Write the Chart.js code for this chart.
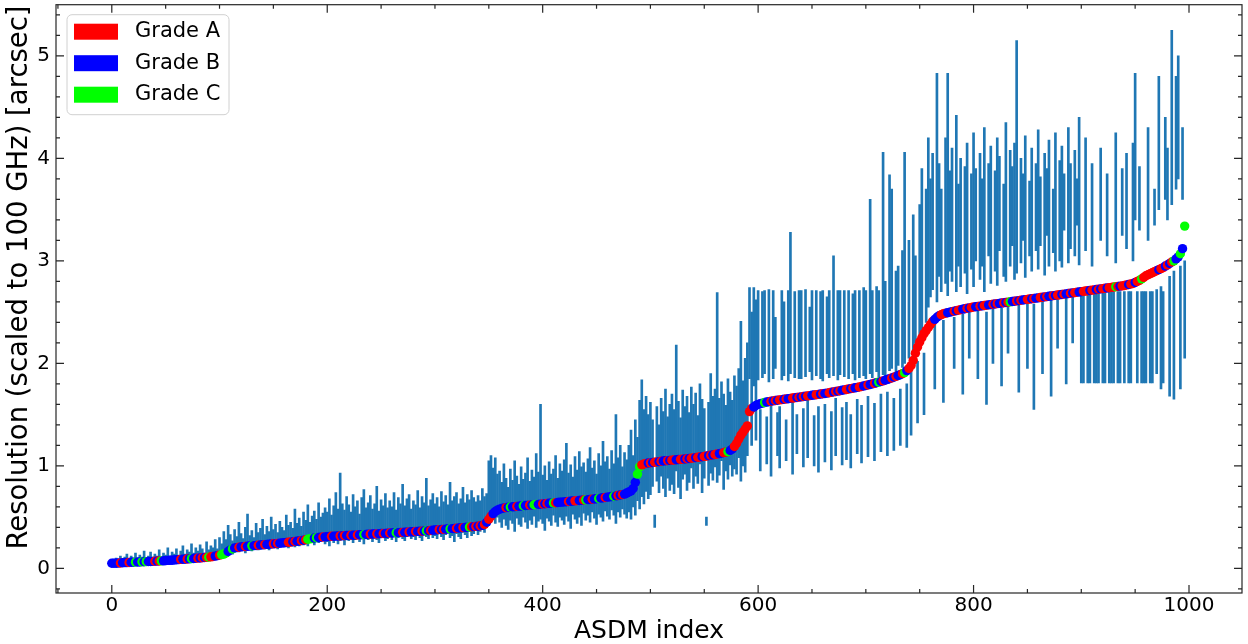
<!DOCTYPE html>
<html>
<head>
<meta charset="utf-8">
<title>Resolution per ASDM</title>
<script src="https://cdn.jsdelivr.net/npm/chart.js@4.4.1/dist/chart.umd.min.js"></script>
<style>
  html, body { margin: 0; padding: 0; background: #ffffff; }
  #chart { display: block; }
</style>
</head>
<body>
<canvas id="chart" width="1248" height="644"></canvas>
<script>
// resolution of each ASDM (sorted), sampled every 2nd index
const resolution = [
  0.05,0.05,0.05,0.052,0.053,0.055,0.056,0.057,0.058,0.06,
  0.06,0.061,0.062,0.063,0.064,0.065,0.066,0.067,0.068,0.069,
  0.07,0.071,0.072,0.073,0.074,0.076,0.078,0.079,0.08,0.082,
  0.085,0.086,0.088,0.089,0.09,0.092,0.093,0.095,0.097,0.099,
  0.1,0.102,0.104,0.106,0.108,0.11,0.113,0.116,0.12,0.125,
  0.13,0.135,0.14,0.15,0.165,0.18,0.19,0.2,0.203,0.206,
  0.21,0.212,0.214,0.216,0.218,0.22,0.222,0.224,0.226,0.228,
  0.23,0.232,0.234,0.236,0.238,0.24,0.242,0.244,0.246,0.248,
  0.25,0.252,0.255,0.257,0.26,0.262,0.265,0.268,0.271,0.275,
  0.28,0.284,0.288,0.292,0.296,0.3,0.302,0.304,0.306,0.308,
  0.31,0.312,0.313,0.314,0.315,0.316,0.317,0.318,0.32,0.321,
  0.322,0.323,0.324,0.325,0.326,0.328,0.329,0.33,0.331,0.333,
  0.334,0.335,0.336,0.337,0.338,0.34,0.341,0.342,0.343,0.345,
  0.346,0.347,0.348,0.349,0.35,0.352,0.353,0.354,0.356,0.357,
  0.358,0.36,0.361,0.362,0.364,0.365,0.367,0.368,0.37,0.372,
  0.375,0.376,0.378,0.379,0.381,0.383,0.385,0.386,0.388,0.39,
  0.392,0.394,0.396,0.398,0.4,0.402,0.404,0.406,0.408,0.41,
  0.412,0.416,0.42,0.43,0.45,0.48,0.51,0.535,0.555,0.568,
  0.578,0.584,0.589,0.593,0.596,0.599,0.601,0.603,0.605,0.607,
  0.609,0.611,0.613,0.615,0.617,0.619,0.621,0.623,0.625,0.627,
  0.629,0.631,0.633,0.635,0.637,0.639,0.641,0.643,0.645,0.647,
  0.649,0.651,0.653,0.655,0.657,0.659,0.661,0.663,0.665,0.667,
  0.669,0.671,0.673,0.675,0.677,0.68,0.683,0.686,0.689,0.692,
  0.695,0.698,0.701,0.704,0.708,0.712,0.716,0.72,0.725,0.735,
  0.745,0.755,0.78,0.84,0.92,0.99,1.01,1.02,1.025,1.028,
  1.03,1.033,1.036,1.039,1.042,1.045,1.048,1.05,1.052,1.054,
  1.056,1.058,1.06,1.062,1.064,1.066,1.068,1.07,1.072,1.075,
  1.078,1.081,1.084,1.087,1.09,1.093,1.096,1.1,1.104,1.108,
  1.112,1.116,1.12,1.125,1.13,1.135,1.14,1.15,1.165,1.19,
  1.22,1.26,1.3,1.33,1.36,1.39,1.53,1.56,1.575,1.59,
  1.6,1.607,1.613,1.618,1.623,1.627,1.631,1.635,1.638,1.641,
  1.644,1.647,1.65,1.653,1.656,1.659,1.662,1.665,1.668,1.671,
  1.674,1.677,1.68,1.683,1.686,1.689,1.692,1.695,1.698,1.701,
  1.704,1.707,1.71,1.714,1.718,1.722,1.726,1.73,1.734,1.738,
  1.742,1.746,1.75,1.754,1.758,1.762,1.766,1.77,1.775,1.78,
  1.785,1.79,1.795,1.8,1.806,1.812,1.818,1.824,1.83,1.837,
  1.844,1.851,1.858,1.866,1.874,1.882,1.89,1.9,1.91,1.93,
  1.95,1.98,2.03,2.1,2.16,2.21,2.25,2.29,2.32,2.35,
  2.38,2.41,2.43,2.45,2.465,2.475,2.485,2.49,2.495,2.5,
  2.505,2.51,2.515,2.52,2.525,2.53,2.534,2.538,2.542,2.546,
  2.55,2.553,2.556,2.559,2.562,2.565,2.568,2.571,2.574,2.577,
  2.58,2.583,2.586,2.589,2.592,2.595,2.598,2.601,2.604,2.607,
  2.61,2.613,2.616,2.619,2.622,2.625,2.628,2.631,2.634,2.637,
  2.64,2.643,2.646,2.649,2.652,2.655,2.658,2.661,2.664,2.667,
  2.67,2.673,2.676,2.679,2.682,2.685,2.688,2.691,2.694,2.697,
  2.7,2.703,2.706,2.709,2.712,2.715,2.718,2.721,2.724,2.727,
  2.73,2.733,2.736,2.739,2.742,2.745,2.748,2.751,2.754,2.757,
  2.76,2.765,2.77,2.775,2.78,2.79,2.8,2.81,2.825,2.84,
  2.855,2.865,2.875,2.885,2.895,2.905,2.915,2.925,2.935,2.95,
  2.96,2.975,2.99,3.0,3.02,3.04,3.07,3.12,3.34
];

// upper end of each resolution range
const errHigh = [
  0.08,0.07,0.1,0.09,0.12,0.08,0.11,0.14,0.09,0.12,
  0.1,0.15,0.09,0.13,0.11,0.17,0.1,0.12,0.16,0.11,
  0.14,0.12,0.18,0.1,0.15,0.13,0.2,0.12,0.16,0.14,
  0.19,0.13,0.17,0.22,0.14,0.18,0.16,0.24,0.15,0.2,
  0.17,0.23,0.19,0.15,0.26,0.18,0.22,0.2,0.28,0.19,
  0.3,0.24,0.36,0.28,0.42,0.33,0.27,0.38,0.31,0.45,
  0.34,0.29,0.4,0.53,0.32,0.37,0.3,0.44,0.35,0.39,
  0.48,0.33,0.41,0.36,0.5,0.38,0.43,0.35,0.46,0.4,
  0.37,0.52,0.42,0.45,0.39,0.58,0.44,0.49,0.41,0.55,
  0.47,0.62,0.45,0.51,0.56,0.48,0.64,0.5,0.54,0.59,
  0.55,0.68,0.52,0.61,0.74,0.58,0.93,0.63,0.57,0.7,
  0.62,0.55,0.72,0.6,0.66,0.53,0.69,0.77,0.59,0.64,
  0.71,0.58,0.63,0.8,0.56,0.67,0.61,0.73,0.59,0.66,
  0.6,0.74,0.57,0.69,0.63,0.82,0.61,0.68,0.72,0.58,
  0.66,0.62,0.76,0.59,0.7,0.64,0.88,0.61,0.67,0.73,
  0.63,0.69,0.6,0.75,0.65,0.71,0.62,0.84,0.66,0.7,
  0.74,0.63,0.68,0.79,0.64,0.72,0.67,0.76,0.69,0.65,
  0.71,0.66,0.78,0.7,0.73,1.05,1.1,0.98,1.08,0.92,
  0.95,0.84,1.02,0.88,0.79,0.97,0.86,1.05,0.9,0.82,
  0.99,0.87,0.93,1.08,0.85,0.96,0.89,1.12,0.94,1.6,
  0.91,1.0,0.86,1.04,0.92,0.97,1.1,0.88,1.02,0.95,
  1.06,1.22,0.93,1.01,0.89,1.09,0.96,1.14,0.99,1.03,
  0.94,1.07,1.18,0.98,1.05,0.92,1.12,1.0,1.24,1.04,
  1.09,0.97,1.15,1.02,1.5,1.08,1.2,0.99,1.13,1.06,
  1.2,1.35,1.1,1.45,1.28,1.64,1.84,1.55,1.68,1.5,
  1.62,1.45,0.52,1.58,1.4,1.66,1.53,1.75,1.48,1.6,
  1.7,1.55,2.18,1.63,1.47,1.74,1.58,1.68,1.52,1.77,
  1.6,1.71,1.49,1.8,1.65,1.56,0.5,1.62,1.9,1.68,
  1.75,2.69,1.66,1.82,1.7,1.59,1.85,1.72,1.64,1.88,
  1.78,1.95,2.41,1.83,2.05,2.2,2.74,2.5,2.74,2.62,
  2.71,1.55,2.7,2.71,1.48,2.72,1.6,2.71,2.45,1.52,
  1.58,2.71,2.6,1.45,2.71,3.28,1.62,2.7,1.5,2.71,
  2.71,1.56,2.72,1.64,2.55,2.71,1.49,2.71,1.58,2.7,
  2.71,1.6,2.65,2.71,1.53,3.05,1.66,2.71,2.71,1.57,
  2.71,1.62,2.71,1.5,2.68,2.71,1.65,2.71,1.59,2.74,
  2.71,1.68,3.6,2.71,1.61,2.75,2.71,1.7,4.06,2.8,
  1.72,3.84,3.7,1.66,2.9,2.95,1.75,3.1,4.06,1.8,
  3.2,1.95,3.45,3.05,2.02,3.55,3.9,2.1,3.7,4.2,
  3.8,4.05,2.4,4.83,3.95,3.7,2.42,4.2,4.83,3.88,
  4.1,2.45,4.42,3.75,4.0,2.48,3.92,4.15,2.5,3.85,
  4.25,3.9,2.52,4.05,3.8,4.3,2.5,3.95,4.12,2.55,
  3.88,4.2,4.02,2.54,3.75,4.35,2.56,4.08,3.92,4.15,
  5.15,2.58,4.0,3.85,4.22,2.6,3.78,4.1,2.58,3.95,
  4.28,3.82,2.62,4.05,3.9,4.18,2.62,3.7,4.25,2.64,
  3.98,4.12,3.85,2.66,4.3,3.95,2.67,4.08,3.8,4.4,
  2.7,2.7,4.2,2.7,2.7,3.95,2.7,2.7,2.7,4.1,
  2.7,2.7,3.85,2.7,2.7,2.7,4.25,2.7,2.7,3.9,
  2.7,4.05,2.7,2.7,4.15,4.83,2.7,3.92,2.7,2.7,
  2.7,4.3,2.7,2.7,3.7,2.72,4.8,2.75,2.7,4.4,
  4.1,2.85,5.25,2.9,4.8,5.0,2.95,4.3,3.0
];

// lower end of each resolution range
const errLow = [
  0.03,0.03,0.04,0.03,0.04,0.04,0.04,0.05,0.04,0.05,
  0.04,0.05,0.05,0.04,0.05,0.05,0.05,0.06,0.05,0.06,
  0.06,0.05,0.06,0.06,0.05,0.07,0.06,0.07,0.06,0.07,
  0.07,0.06,0.08,0.07,0.07,0.08,0.07,0.08,0.08,0.07,
  0.08,0.09,0.08,0.09,0.09,0.1,0.09,0.1,0.1,0.11,
  0.11,0.12,0.12,0.13,0.14,0.15,0.14,0.16,0.17,0.16,
  0.17,0.18,0.15,0.18,0.19,0.17,0.19,0.2,0.18,0.19,
  0.2,0.19,0.21,0.18,0.21,0.2,0.22,0.19,0.21,0.22,
  0.21,0.23,0.2,0.22,0.24,0.21,0.23,0.22,0.24,0.23,
  0.24,0.22,0.25,0.26,0.23,0.27,0.25,0.26,0.28,0.24,
  0.26,0.22,0.28,0.25,0.3,0.24,0.27,0.29,0.23,0.28,
  0.27,0.3,0.25,0.28,0.31,0.26,0.29,0.24,0.3,0.28,
  0.29,0.26,0.31,0.28,0.25,0.3,0.32,0.27,0.29,0.31,
  0.28,0.31,0.26,0.3,0.32,0.29,0.27,0.31,0.33,0.29,
  0.31,0.28,0.32,0.3,0.27,0.33,0.31,0.29,0.34,0.3,
  0.32,0.29,0.34,0.31,0.28,0.33,0.35,0.3,0.32,0.26,
  0.34,0.31,0.29,0.35,0.33,0.3,0.36,0.32,0.34,0.37,
  0.33,0.36,0.38,0.35,0.4,0.42,0.45,0.48,0.44,0.5,
  0.45,0.4,0.48,0.42,0.38,0.47,0.44,0.36,0.49,0.43,
  0.41,0.5,0.45,0.39,0.47,0.43,0.51,0.4,0.46,0.48,
  0.44,0.37,0.49,0.46,0.42,0.52,0.45,0.41,0.5,0.47,
  0.43,0.51,0.46,0.39,0.53,0.48,0.44,0.5,0.42,0.54,
  0.47,0.52,0.45,0.55,0.49,0.43,0.53,0.5,0.46,0.56,
  0.51,0.48,0.57,0.52,0.44,0.55,0.5,0.58,0.53,0.49,
  0.55,0.48,0.6,0.52,0.66,0.58,0.7,0.63,0.75,0.68,
  0.72,0.8,0.4,0.85,0.74,0.9,0.78,0.7,0.88,0.76,
  0.82,0.73,0.95,0.79,0.68,0.87,0.92,0.76,0.84,0.98,
  0.78,0.9,0.83,1.02,0.74,0.88,0.42,0.81,0.93,0.86,
  0.99,0.84,0.91,1.05,0.77,0.95,0.87,1.01,0.9,0.97,
  0.92,1.08,0.85,1.0,0.94,1.1,1.85,1.2,1.78,1.25,
  1.84,0.95,1.86,1.9,1.02,1.82,0.9,1.85,1.95,1.1,
  0.98,1.84,1.88,1.05,1.83,1.9,0.92,1.86,1.12,1.85,
  1.85,0.99,1.87,1.08,1.92,1.84,1.0,1.88,0.94,1.85,
  1.83,1.04,1.9,1.86,0.96,1.88,1.1,1.84,1.89,1.01,
  1.87,1.06,1.85,0.98,1.9,1.84,1.12,1.86,1.03,1.88,
  1.85,1.09,1.9,1.86,1.05,1.92,1.87,1.14,1.89,1.84,
  1.1,1.93,1.95,1.15,1.9,1.98,1.2,1.96,2.0,1.18,
  2.05,1.3,2.1,2.2,1.42,2.25,2.3,1.5,2.4,2.55,
  2.65,2.72,1.75,2.6,2.85,2.7,1.62,2.78,2.66,2.9,
  2.8,1.95,2.7,2.95,2.75,1.7,2.88,2.68,2.05,2.92,
  2.75,3.0,1.85,2.82,2.95,2.7,1.6,3.05,2.78,2.0,
  2.9,2.76,3.1,1.78,2.85,2.8,2.1,2.95,3.15,2.82,
  2.88,1.72,2.98,3.2,2.84,1.95,3.05,2.9,1.55,3.1,
  2.92,3.15,1.9,2.86,3.25,2.95,1.68,3.08,2.9,2.15,
  3.0,2.94,3.3,1.8,2.98,3.12,2.2,3.05,3.35,2.96,
  1.81,1.81,3.1,1.81,1.81,2.95,1.81,1.81,1.81,3.2,
  1.81,1.81,3.05,1.81,1.81,1.81,2.98,1.81,1.81,3.25,
  1.81,3.12,1.81,1.81,3.0,3.4,1.81,3.3,1.81,1.81,
  1.81,3.2,1.81,1.81,3.35,1.9,3.5,1.75,1.81,3.6,
  3.4,1.68,3.55,1.65,3.7,3.8,1.75,3.6,2.05
];

// grade of each ASDM (A, B or C), same order as resolution
const gradeRows = [
  "BBBBABBBAB","BCBBCBCBBB","ABACBBBBBB","BBABBABCBB","ABABACAABB",
  "ACCCBBCBBA","BBABBCBBAB","BABBBABABB","BBAABABBAB","ACCCBCBBAB",
  "BBABBBABAB","BABBABBCBB","ABBABBABBA","BBCBBABBAB","BABBABCBAB",
  "BBABABBCBB","ABBABBCABA","BABABAABBB","BBBABCBBAB","BCBBABCCBB",
  "ABABBCABBB","BBABBAABBA","CBBABBCBBA","BBBCBABABB","BBBBCCAAAB",
  "ABAABABBAB","AABBAABABA","ABAABAABAB","AABBAACBBA","AAAAAAAABB",
  "BBBCBBABAB","AABABBAABA","BABAABBAAB","ABBAABABAB","BAABABBAAB",
  "BABBABCBAB","BBABABBACB","AAAAAAAAAA","AABBBAAABB","BABAABBABA",
  "ABBABAABBA","BABBABACBB","ABABBAABAB","BAABABBABA","ABABBABAAB",
  "BAAABAABAB","AABAAACABA","AABAABAACA","AAAAAABAAB","ABACBBCBC"
];
const grades = gradeRows.join('').split('');

const gradeLabels = ['Grade A', 'Grade B', 'Grade C'];
const gradeKeys = ['A', 'B', 'C'];
const xTicks = [0, 200, 400, 600, 800, 1000];
const yTicks = [0, 1, 2, 3, 4, 5];
const yTitle = 'Resolution (scaled to 100 GHz) [arcsec]';

const gradeColor = { A: '#ff0000', B: '#0000ff', C: '#00ff00' };
const barBlue = '#1f77b4';
const FONT = "'DejaVu Sans', 'Liberation Sans', sans-serif";

const n = Math.min(resolution.length, errLow.length, errHigh.length, grades.length);
const asdmIndex = resolution.slice(0, n).map((_, i) => i * 2);

const points = [];
const ranges = [];
for (let i = 0; i < n; i++) {
  points.push({ x: asdmIndex[i], y: resolution[i] });
  ranges.push({ x: asdmIndex[i], y: [errLow[i], errHigh[i]] });
}

// inward ticks on all four sides + box frame
const frameTicks = {
  id: 'frameTicks',
  afterDatasetsDraw(chart) {
    const { ctx, chartArea: a, scales: { x, y } } = chart;
    ctx.save();
    ctx.strokeStyle = '#262626';
    ctx.lineWidth = 1.2;
    ctx.beginPath();
    const major = 8, minor = 4;
    for (let v = -50; v <= 1050; v += 50) {
      const p = x.getPixelForValue(v);
      if (p < a.left - 0.5 || p > a.right + 0.5) continue;
      const len = v % 200 === 0 ? major : minor;
      ctx.moveTo(p, a.bottom); ctx.lineTo(p, a.bottom - len);
      ctx.moveTo(p, a.top); ctx.lineTo(p, a.top + len);
    }
    for (let k = -1; k <= 27; k++) {
      const v = k * 0.2;
      const p = y.getPixelForValue(v);
      if (p < a.top - 0.5 || p > a.bottom + 0.5) continue;
      const len = k % 5 === 0 ? major : minor;
      ctx.moveTo(a.left, p); ctx.lineTo(a.left + len, p);
      ctx.moveTo(a.right, p); ctx.lineTo(a.right - len, p);
    }
    ctx.stroke();
    ctx.strokeRect(a.left, a.top, a.right - a.left, a.bottom - a.top);
    ctx.restore();
  }
};

// legend box in the upper-left corner, plus the rotated y title
const gradeLegend = {
  id: 'gradeLegend',
  afterDraw(chart) {
    const { ctx, chartArea: a } = chart;
    const bx = a.left + 11, by = a.top + 10, bw = 162, bh = 100, r = 5;
    ctx.save();
    ctx.beginPath();
    ctx.roundRect(bx, by, bw, bh, r);
    ctx.fillStyle = 'rgba(255,255,255,0.85)';
    ctx.fill();
    ctx.strokeStyle = '#d0d0d0';
    ctx.lineWidth = 1;
    ctx.stroke();
    ctx.font = '21px ' + FONT;
    ctx.textBaseline = 'middle';
    gradeLabels.forEach((label, i) => {
      const cy = by + 17 + i * 31.5;
      ctx.fillStyle = gradeColor[gradeKeys[i]];
      ctx.fillRect(bx + 7, cy - 8, 44, 16);
      ctx.fillStyle = '#000';
      ctx.fillText(label, bx + 68, cy);
    });

    ctx.translate(20, 277.5);
    ctx.rotate(-Math.PI / 2);
    ctx.textAlign = 'center';
    ctx.font = '27.5px ' + FONT;
    ctx.fillText(yTitle, 0, 0);
    ctx.restore();
  }
};

new Chart(document.getElementById('chart'), {
  type: 'scatter',
  data: {
    datasets: [
      {
        type: 'scatter',
        label: 'Resolution',
        data: points,
        pointRadius: 4.7,
        pointBorderWidth: 0,
        pointBackgroundColor: c => gradeColor[grades[c.dataIndex]] || gradeColor.B,
        order: 0
      },
      {
        type: 'bar',
        label: 'Range',
        data: ranges,
        backgroundColor: barBlue,
        borderWidth: 0,
        barThickness: 2,
        order: 1
      }
    ]
  },
  options: {
    responsive: false,
    devicePixelRatio: 1,
    animation: false,
    layout: { padding: { left: 0, right: 6, top: 4, bottom: 0 } },
    plugins: {
      legend: { display: false },
      tooltip: { enabled: false }
    },
    scales: {
      x: {
        type: 'linear',
        min: -51.8,
        max: 1049.2,
        offset: false,
        grid: { display: false, drawTicks: false },
        border: { display: false },
        afterBuildTicks: s => { s.ticks = xTicks.map(v => ({ value: v })); },
        afterFit: s => { s.height = 51; s.paddingLeft = 0; s.paddingRight = 0; },
        ticks: {
          color: '#000',
          padding: 1,
          maxRotation: 0,
          callback: v => String(v),
          font: { family: FONT, size: 20, lineHeight: 1.2 }
        },
        title: {
          display: true,
          text: 'ASDM index',
          color: '#000',
          padding: { top: 0, bottom: 0 },
          font: { family: FONT, size: 25, lineHeight: 1 }
        }
      },
      y: {
        type: 'linear',
        min: -0.24,
        max: 5.5,
        grid: { display: false, drawTicks: false },
        border: { display: false },
        afterBuildTicks: s => { s.ticks = yTicks.map(v => ({ value: v })); },
        afterFit: s => { s.width = 56; s.paddingTop = 0; s.paddingBottom = 0; },
        ticks: {
          color: '#000',
          padding: 6,
          callback: v => String(v),
          font: { family: FONT, size: 20 }
        },
        title: { display: false }
      }
    }
  },
  plugins: [frameTicks, gradeLegend]
});
</script>
</body>
</html>
